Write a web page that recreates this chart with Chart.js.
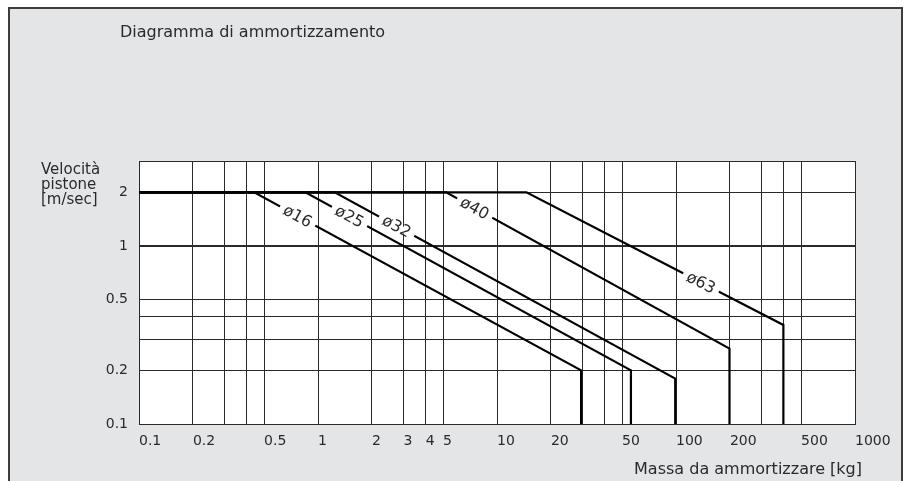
<!DOCTYPE html>
<html>
<head>
<meta charset="utf-8">
<script src="https://cdn.jsdelivr.net/npm/chart.js@4"></script>
<style>
  html, body { margin: 0; padding: 0; background: #fff; }
  #wrap { position: relative; width: 912px; height: 481px; overflow: hidden; }
  #frame { position: absolute; left: 8px; top: 7px; width: 891px; height: 520px; background: #e4e5e7; border: 2px solid #3d3d3d; }
  canvas { position: absolute; left: 0; top: 0; }
</style>
</head>
<body>
<div id="wrap">
  <div id="frame"></div>
  <canvas id="myChart" width="912" height="481"></canvas>
</div>
<script>
// bore sizes and the break points of each curve (mass kg, speed m/s)
const bores = ['ø16', 'ø25', 'ø32', 'ø40', 'ø63'];
const startMass = [0.1, 0.1, 0.1, 0.1, 0.1];
const topSpeed = [2, 2, 2, 2, 2];
const kneeMass = [0.44, 0.85, 1.24, 5.2, 14.6];
const endMass = [29.5, 56, 99, 199, 398];
const endSpeed = [0.2, 0.2, 0.18, 0.265, 0.36];
const floorSpeed = [0.1, 0.1, 0.1, 0.1, 0.1];
const labelMass = [0.77, 1.5, 2.75, 7.5, 138];

// axis grid values and labelled ticks
const xGrid = [0.1, 0.2, 0.3, 0.4, 0.5, 1, 2, 3, 4, 5, 10, 20, 30, 40, 50, 100, 200, 300, 400, 500, 1000];
const xLabels = [0.1, 0.2, 0.5, 1, 2, 3, 4, 5, 10, 20, 50, 100, 200, 500, 1000];
const yGrid = [0.1, 0.2, 0.3, 0.4, 0.5, 1, 2, 3];
const yLabels = [0.1, 0.2, 0.5, 1, 2];

const FONT = '"DejaVu Sans", sans-serif';
const TXT = '#2a2a2a';

const datasets = bores.map((b, i) => ({
  label: b,
  data: [
    { x: startMass[i], y: topSpeed[i] },
    { x: kneeMass[i], y: topSpeed[i] },
    { x: endMass[i], y: endSpeed[i] },
    { x: endMass[i], y: floorSpeed[i] }
  ],
  borderColor: '#000',
  borderWidth: 2.2,
  pointRadius: 0,
  tension: 0,
  fill: false,
  borderJoinStyle: 'miter'
}));

const plotBg = {
  id: 'plotBg',
  beforeDraw(chart) {
    const { ctx, chartArea: a } = chart;
    ctx.save();
    ctx.fillStyle = '#fff';
    ctx.fillRect(a.left, a.top, a.right - a.left, a.bottom - a.top);
    ctx.restore();
  }
};

const boreLabels = {
  id: 'boreLabels',
  afterDatasetsDraw(chart) {
    const { ctx } = chart;
    const xs = chart.scales.x, ys = chart.scales.y;
    ctx.save();
    ctx.font = '16px ' + FONT;
    bores.forEach((b, i) => {
      const x1 = xs.getPixelForValue(kneeMass[i]), y1 = ys.getPixelForValue(topSpeed[i]);
      const x2 = xs.getPixelForValue(endMass[i]), y2 = ys.getPixelForValue(endSpeed[i]);
      const ang = Math.atan2(y2 - y1, x2 - x1);
      const t = Math.log(labelMass[i] / kneeMass[i]) / Math.log(endMass[i] / kneeMass[i]);
      const v = Math.exp(Math.log(topSpeed[i]) + t * Math.log(endSpeed[i] / topSpeed[i]));
      const px = xs.getPixelForValue(labelMass[i]), py = ys.getPixelForValue(v);
      const w = ctx.measureText(b).width + 10;
      ctx.save();
      ctx.translate(px, py);
      ctx.rotate(ang);
      ctx.fillStyle = '#fff';
      ctx.fillRect(-w / 2, -3, w, 6);
      ctx.fillStyle = TXT;
      ctx.textAlign = 'center';
      ctx.textBaseline = 'middle';
      ctx.fillText(b, 0, 1);
      ctx.restore();
    });
    ctx.restore();
  }
};

const texts = {
  id: 'texts',
  afterDraw(chart) {
    const { ctx } = chart;
    ctx.save();
    ctx.fillStyle = TXT;
    ctx.textBaseline = 'alphabetic';
    ctx.textAlign = 'left';
    ctx.font = '16px ' + FONT;
    ctx.fillText('Diagramma di ammortizzamento', 120, 37);
    ctx.font = '15px ' + FONT;
    ctx.fillText('Velocità', 41, 174);
    ctx.fillText('pistone', 41, 189);
    ctx.fillText('[m/sec]', 41, 204);
    ctx.textAlign = 'right';
    ctx.font = '16px ' + FONT;
    ctx.fillText('Massa da ammortizzare [kg]', 862, 474);
    ctx.restore();
  }
};

const config = {
  type: 'line',
  data: { datasets },
  options: {
    responsive: false,
    animation: false,
    layout: { padding: { top: 161, right: 57, left: 0, bottom: 0 } },
    plugins: { legend: { display: false }, tooltip: { enabled: false } },
    scales: {
      x: {
        type: 'logarithmic',
        min: 0.1,
        max: 1000,
        afterBuildTicks: axis => { axis.ticks = xGrid.map(v => ({ value: v })); },
        afterFit: axis => { axis.height = 57; },
        grid: { color: '#2a2a2a', lineWidth: 1, drawTicks: false },
        border: { color: '#2a2a2a', width: 1 },
        ticks: {
          autoSkip: false,
          maxRotation: 0,
          align: 'start',
          padding: 9,
          color: TXT,
          font: { family: FONT, size: 14 },
          callback: v => xLabels.includes(v) ? String(v) : ''
        }
      },
      y: {
        type: 'logarithmic',
        min: 0.1,
        max: 3,
        afterBuildTicks: axis => { axis.ticks = yGrid.map(v => ({ value: v })); },
        afterFit: axis => { axis.width = 139; },
        grid: { color: '#2a2a2a', lineWidth: c => (c.tick && c.tick.value === 1 ? 2 : 1), drawTicks: false },
        border: { color: '#2a2a2a', width: 1 },
        ticks: {
          autoSkip: false,
          padding: 11,
          color: TXT,
          font: { family: FONT, size: 14 },
          callback: v => yLabels.includes(v) ? String(v) : ''
        }
      }
    }
  },
  plugins: [plotBg, boreLabels, texts]
};

const myChart = new Chart(document.getElementById('myChart'), config);
</script>
</body>
</html>
